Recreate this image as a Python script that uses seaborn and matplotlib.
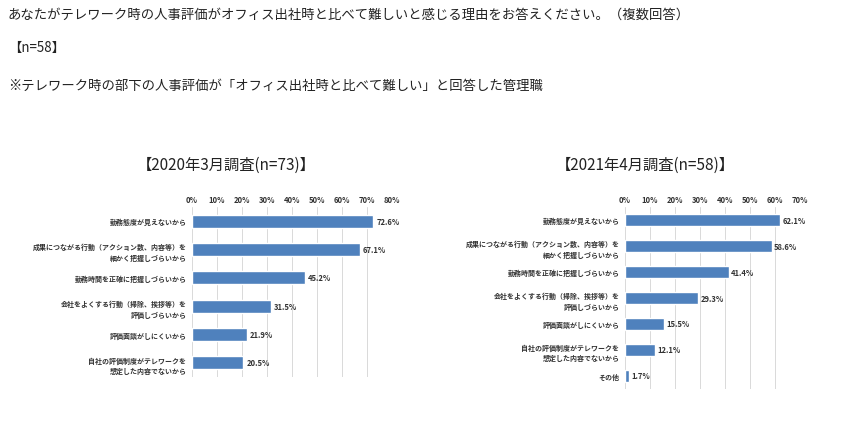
import matplotlib
matplotlib.use("Agg")
import matplotlib.pyplot as plt
import seaborn as sns
import pandas as pd

sns.set_theme(style="white")
plt.rcParams['font.family'] = ['Noto Sans CJK JP', 'DejaVu Sans']

cats_2020 = ["勤務態度が見えないから",
             "成果につながる行動（アクション数、内容等）を\n細かく把握しづらいから",
             "勤務時間を正確に把握しづらいから",
             "会社をよくする行動（掃除、挨拶等）を\n評価しづらいから",
             "評価面談がしにくいから",
             "自社の評価制度がテレワークを\n想定した内容でないから"]
vals_2020 = [72.6, 67.1, 45.2, 31.5, 21.9, 20.5]
cats_2021 = cats_2020 + ["その他"]
vals_2021 = [62.1, 58.6, 41.4, 29.3, 15.5, 12.1, 1.7]

title_2020 = "【2020年3月調査(n=73)】"
title_2021 = "【2021年4月調査(n=58)】"
header = ["あなたがテレワーク時の人事評価がオフィス出社時と比べて難しいと感じる理由をお答えください。（複数回答）",
          "【n=58】",
          "※テレワーク時の部下の人事評価が「オフィス出社時と比べて難しい」と回答した管理職"]

fig = plt.figure(figsize=(8.59, 4.27), dpi=100)
fig.patch.set_facecolor("white")
for txt, y in zip(header, [15, 48, 86]):
    fig.text(8/859, 1 - y/427, txt, fontsize=9.6, va="center", ha="left", color="#222222")

color = "#4F81BD"

def panel(rect, cats, vals, xmax, title, tx):
    ax = fig.add_axes(rect)
    df = pd.DataFrame({"cat": cats, "val": vals})
    sns.barplot(data=df, y="cat", x="val", orient="h", color=color, ax=ax,
                width=0.45, saturation=1)
    ax.set_xlim(0, xmax)
    ax.set_xticks(range(0, xmax + 1, 10))
    ax.set_xticklabels([f"{t}%" for t in range(0, xmax + 1, 10)], fontsize=5.5, fontweight="bold", color="#333333")
    ax.xaxis.tick_top()
    ax.tick_params(axis="x", length=0, pad=2)
    ax.tick_params(axis="y", length=0, pad=4, labelsize=5, colors="#333333")
    for lab in ax.get_yticklabels():
        lab.set_fontweight("bold")
        lab.set_multialignment("right")
        lab.set_linespacing(1.6)
    ax.set_xlabel(""); ax.set_ylabel("")
    ax.grid(axis="x", color="#d9d9d9", linewidth=0.7)
    ax.set_axisbelow(True)
    for s in ax.spines.values():
        s.set_visible(False)
    for i, v in enumerate(vals):
        ax.text(v + xmax * 0.015, i, f"{v:.1f}%", va="center", ha="left", fontsize=5.5,
                fontweight="bold", color="#333333")
    fig.text(tx / 859, 1 - 165 / 427, title, fontsize=11, ha="center", va="center", color="#222222")

panel([192/859, 1 - 378/427, 200/859, 170/427], cats_2020, vals_2020, 80, title_2020, 226)
panel([625/859, 1 - 390/427, 175/859, 182/427], cats_2021, vals_2021, 70, title_2021, 645)

fig.savefig("out.png", dpi=100, facecolor="white")
